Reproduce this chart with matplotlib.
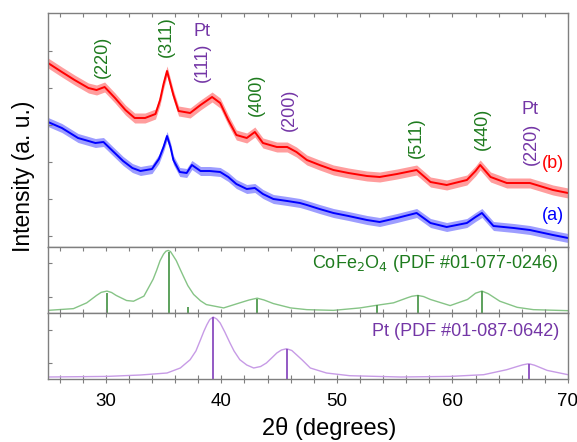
import matplotlib
matplotlib.use("Agg")
import matplotlib.pyplot as plt
import numpy as np

plt.rcParams['font.family'] = ['Liberation Sans', 'DejaVu Sans']

# ---------------- data ----------------
# measured pattern (b), arbitrary intensity units
red_x = [25.0, 26.2, 27.3, 28.5, 29.2, 29.9, 30.8, 31.7, 32.5, 33.4, 34.3, 34.7, 35.0, 35.3,
         35.6, 35.85, 36.3, 37.3, 38.2, 39.2, 39.9, 40.6, 41.3, 42.2, 42.9, 43.6, 44.8, 45.7,
         46.5, 47.4, 48.5, 49.7, 51.0, 52.6, 53.7, 55.2, 56.9, 58.1, 59.5, 61.25, 62.0, 62.4,
         63.3, 64.7, 66.7, 68.7, 70.0]
red_y = [184, 175, 167, 159, 157, 160, 149, 137, 129, 129, 133, 147, 163, 176,
         163, 152, 136, 134, 142, 150, 144, 127, 112, 109, 115, 104, 100, 100,
         95, 87, 82, 77, 74, 71, 70, 73, 77, 65, 62, 67, 76, 82,
         70, 64, 64, 57, 54]
red_noise = 5.0

# measured pattern (a)
blue_x = [25.0, 26.2, 27.6, 29.1, 29.8, 30.6, 31.5, 32.3, 33.0, 34.0, 34.6, 35.0, 35.3, 35.6,
          35.85, 36.4, 37.0, 37.45, 38.2, 39.0, 39.9, 40.6, 41.3, 42.2, 42.9, 43.6, 44.5, 45.7,
          46.8, 47.4, 48.5, 49.7, 51.0, 52.6, 53.7, 55.2, 56.9, 58.1, 59.5, 61.25, 62.0, 62.55,
          63.55, 65.3, 66.7, 68.7, 70.0]
blue_y = [125, 119, 109, 104, 105, 96, 86, 79, 76, 78, 88, 100, 111, 100,
          87, 75, 74, 82, 76, 76, 75, 70, 63, 58, 59, 53, 48, 46,
          44, 42, 38, 34, 31, 27, 25, 29, 34, 24, 20, 24, 30, 34,
          21, 19, 17, 12, 9]
blue_noise = 4.5

# CoFe2O4 reference profile and sticks
co_x = [25.0, 27.2, 28.35, 29.2, 29.6, 30.1, 30.5, 30.9, 31.8, 32.4, 33.3, 34.1, 34.4, 34.7,
        35.0, 35.2, 35.4, 35.6, 35.8, 36.1, 36.4, 36.7, 37.1, 37.6, 38.2, 38.7, 40.2, 41.6,
        42.4, 43.1, 43.7, 44.5, 46.0, 47.4, 49.7, 52.0, 53.45, 54.9, 56.1, 56.5, 57.0, 57.5,
        58.1, 59.8, 61.3, 62.0, 62.55, 63.1, 64.1, 65.6, 67.0, 70.0]
co_y = [2.6, 4.3, 10, 17.3, 20.3, 21.6, 20.2, 17.3, 12.3, 11.6, 16.6, 33.3, 42, 51.6,
        58, 60.8, 61.6, 60.5, 57, 51.6, 44, 36.6, 27, 18.3, 12, 8.3, 5, 10,
        12.8, 14.6, 12.8, 9.3, 5, 3.3, 2.6, 5, 7.6, 10, 15, 16.5, 17.3, 16.2,
        13.3, 7.3, 13.3, 19.5, 21.6, 19, 11.6, 5.6, 3.3, 2.3]
co_stick_pos = [30.1, 35.45, 37.1, 43.1, 53.45, 57.0, 62.55]
co_stick_h = [20, 60, 6, 14, 7.6, 17.3, 21.6]

# Pt reference profile and sticks
pt_x = [25.0, 30.1, 33.0, 35.3, 36.45, 37.3, 37.8, 38.2, 38.5, 38.75, 39.0, 39.3, 39.6, 39.9,
        40.3, 40.75, 41.1, 41.6, 42.2, 42.8, 43.4, 43.9, 44.4, 44.8, 45.2, 45.65, 46.1, 46.5,
        47.0, 47.7, 49.1, 51.1, 55.5, 59.8, 62.7, 64.7, 65.6, 66.1, 66.6, 67.1, 68.2, 70.0]
pt_y = [2, 2.6, 4, 6, 11, 19.3, 28, 39.3, 48, 54.3, 59.5, 62, 60, 56,
        47, 36, 28, 19.3, 14, 11, 12.5, 16, 21.5, 26, 29, 30.3, 28.5, 24.3,
        19, 11, 6, 3.3, 2, 2.6, 4.3, 9.3, 12.5, 14.2, 15.3, 13.8, 8.6, 4.3]
pt_stick_pos = [39.3, 45.65, 66.6]
pt_stick_h = [62, 30.3, 15.3]

# peak labels in the top panel: (text, x, y, colour key, rotation)
peak_labels = [("(220)", 29.7, 190, 'g', 90), ("(311)", 35.25, 210, 'g', 90),
               ("Pt", 38.3, 216, 'p', 0), ("(111)", 38.4, 185, 'p', 90),
               ("(400)", 43.0, 152, 'g', 90), ("(200)", 45.9, 137, 'p', 90),
               ("(511)", 56.9, 109, 'g', 90), ("(440)", 62.6, 118, 'g', 90),
               ("Pt", 66.7, 137, 'p', 0), ("(220)", 66.8, 103, 'p', 90)]
xticks_major = [30, 40, 50, 60, 70]

# ---------------- figure ----------------
W, H = 577, 442
fig = plt.figure(figsize=(W / 100, H / 100), dpi=100)

def ax_px(x0, y0, x1, y1):
    return fig.add_axes([x0 / W, 1 - y1 / H, (x1 - x0) / W, (y1 - y0) / H])

ax1 = ax_px(48, 13, 568, 247)
ax2 = ax_px(48, 247, 568, 313)
ax3 = ax_px(48, 313, 568, 379)

spine_c = '#7f7f7f'
green_t = '#1e7b1e'
purple_t = '#7436a6'
green_l = '#86c486'
green_s = '#4f9a4f'
purple_l = '#c79be6'
purple_s = '#8a4cbf'

minor = np.arange(26, 71, 2)
for ax in (ax1, ax2, ax3):
    ax.set_xlim(25, 70)
    for s in ax.spines.values():
        s.set_color(spine_c)
        s.set_linewidth(1.0)
    ax.set_xticks(minor)
    ax.tick_params(axis='x', which='both', top=True, bottom=False, direction='in',
                   length=3, color=spine_c, labelbottom=False)
    ax.tick_params(axis='y', which='both', left=True, right=False, direction='in',
                   length=3, color=spine_c, labelleft=False)

ax3.tick_params(axis='x', bottom=True, direction='inout', length=6)
ax3.set_xticklabels([str(int(v)) if v in xticks_major else '' for v in minor])
ax3.tick_params(axis='x', labelbottom=True, labelsize=13.5, pad=7, labelcolor='black')

# top panel
ax1.set_ylim(0, 234)
ax1.set_yticks([11, 48, 85, 122, 159, 196])
ax1.fill_between(red_x, np.array(red_y) - red_noise, np.array(red_y) + red_noise,
                 color='#ff8585', lw=0, alpha=0.8)
ax1.plot(red_x, red_y, color='#ff0000', lw=1.4)
ax1.fill_between(blue_x, np.array(blue_y) - blue_noise, np.array(blue_y) + blue_noise,
                 color='#8585ff', lw=0, alpha=0.8)
ax1.plot(blue_x, blue_y, color='#0000ff', lw=1.4)

cmap = {'g': green_t, 'p': purple_t}
for t, x, y, c, r in peak_labels:
    ax1.text(x, y, t, color=cmap[c], rotation=r, ha='center', va='center', fontsize=13)
ax1.text(68.7, 84, "(b)", color='#ff0000', ha='center', va='center', fontsize=13)
ax1.text(68.7, 31, "(a)", color='#0000ff', ha='center', va='center', fontsize=13)

# middle panel
ax2.set_ylim(0, 65)
ax2.set_yticks([16, 49])
ax2.plot(co_x, co_y, color=green_l, lw=1.0)
ax2.vlines(co_stick_pos, 0, co_stick_h, color=green_s, lw=1.3)
ax2.text(69.2, 49, "CoFe$_2$O$_4$ (PDF #01-077-0246)", color=green_t, ha='right',
         va='center', fontsize=13)

# bottom panel
ax3.set_ylim(0, 66)
ax3.set_yticks([16, 49])
ax3.plot(pt_x, pt_y, color=purple_l, lw=1.0)
ax3.vlines(pt_stick_pos, 0, pt_stick_h, color=purple_s, lw=1.3)
ax3.text(69.2, 47.5, "Pt (PDF #01-087-0642)", color=purple_t, ha='right',
         va='center', fontsize=13)

fig.text(24 / W, 1 - 176 / H, "Intensity (a. u.)", rotation=90, ha='center', va='center',
         fontsize=16.5)
fig.text(329 / W, 1 - 428 / H, "2θ (degrees)", ha='center', va='center', fontsize=17)

fig.savefig("out.png", dpi=100)
